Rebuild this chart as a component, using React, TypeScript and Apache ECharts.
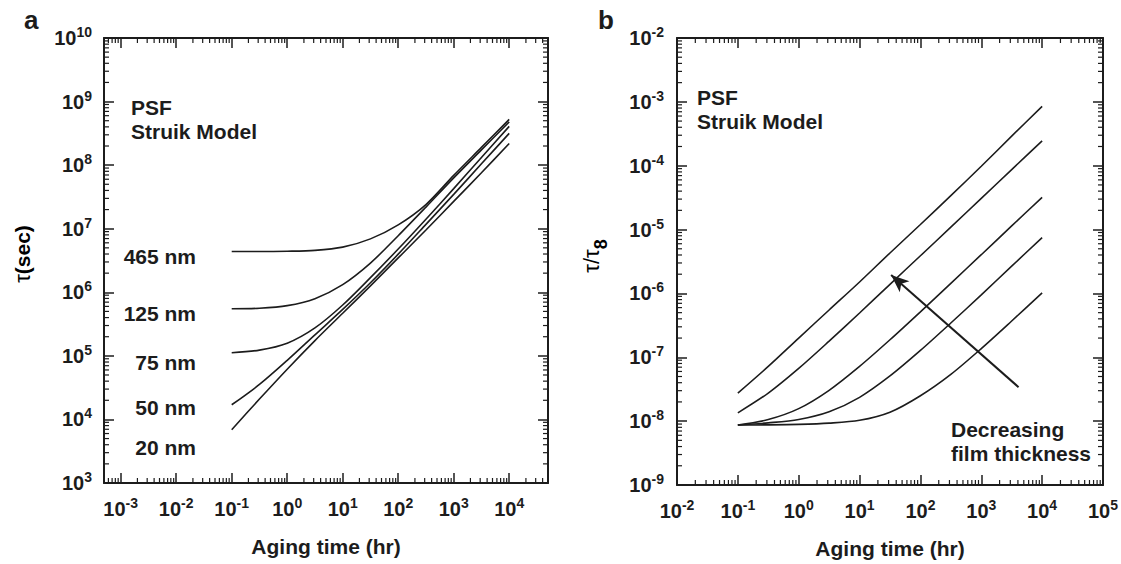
import React, { useEffect, useRef } from 'react';
import * as echarts from 'echarts';

const FONT = '"Liberation Sans", Arial, Helvetica, sans-serif';
const INK = '#1c1c1c';

// Aging time (hr) sample points shared by every curve
const agingTimeHr = [0.1, 0.316, 1, 3.16, 10, 31.6, 100, 316, 1000, 3160, 10000];

// Panel a: tau (sec) per film thickness
const tau465nm = [4.37e6, 4.37e6, 4.42e6, 4.57e6, 5.13e6, 6.92e6, 1.15e7, 2.4e7, 6.9e7, 1.9e8, 5.25e8];
const tau125nm = [5.5e5, 5.62e5, 6.17e5, 7.94e5, 1.32e6, 2.88e6, 7.76e6, 2.19e7, 6.31e7, 1.74e8, 4.79e8];
const tau75nm = [1.12e5, 1.23e5, 1.58e5, 2.75e5, 6.31e5, 1.7e6, 4.79e6, 1.41e7, 4.27e7, 1.32e8, 4.07e8];
const tau50nm = [1.7e4, 3.55e4, 8.5e4, 2.14e5, 5.37e5, 1.41e6, 3.98e6, 1.17e7, 3.47e7, 1.05e8, 3.16e8];
const tau20nm = [6.9e3, 2.09e4, 6.17e4, 1.74e5, 4.68e5, 1.26e6, 3.47e6, 9.55e6, 2.69e7, 7.59e7, 2.19e8];
const thicknessLabels = ['465 nm', '125 nm', '75 nm', '50 nm', '20 nm'];

// Panel b: tau / tau_inf, thickest curve first
const ratioCurve1 = [2.75e-8, 7.2e-8, 2.0e-7, 5.5e-7, 1.51e-6, 4.3e-6, 1.2e-5, 3.4e-5, 9.8e-5, 2.9e-4, 8.5e-4];
const ratioCurve2 = [1.35e-8, 2.75e-8, 6.7e-8, 1.79e-7, 4.94e-7, 1.39e-6, 3.89e-6, 1.09e-5, 3.08e-5, 8.7e-5, 2.45e-4];
const ratioCurve3 = [8.7e-9, 1.06e-8, 1.57e-8, 3.04e-8, 7.2e-8, 1.88e-7, 5.15e-7, 1.44e-6, 4.04e-6, 1.14e-5, 3.2e-5];
const ratioCurve4 = [8.7e-9, 9.4e-9, 1.06e-8, 1.4e-8, 2.36e-8, 5.1e-8, 1.28e-7, 3.44e-7, 9.5e-7, 2.67e-6, 7.5e-6];
const ratioCurve5 = [8.7e-9, 8.75e-9, 8.9e-9, 9.3e-9, 1.03e-8, 1.38e-8, 2.5e-8, 5.4e-8, 1.37e-7, 3.7e-7, 1.02e-6];

// Arrow "Decreasing film thickness" (tail -> tip), data coordinates
const arrowTail = [4100, 3.4e-8];
const arrowTip = [33, 1.95e-6];

// Axis ranges
const aXRange = [5e-4, 5e4];
const aYRange = [1e3, 1e10];
const bXRange = [1e-2, 1e5];
const bYRange = [1e-9, 1e-2];

function minorTicks(lo: number, hi: number): number[] {
  const out: number[] = [];
  const e0 = Math.floor(Math.log10(lo));
  const e1 = Math.ceil(Math.log10(hi));
  for (let e = e0; e <= e1; e++) {
    for (let m = 2; m <= 9; m++) {
      const v = m * Math.pow(10, e);
      if (v > lo * 1.0001 && v < hi * 0.9999) out.push(v);
    }
  }
  return out;
}

const expLabel = (v: number) => {
  const l = Math.log10(v);
  const e = Math.round(l);
  if (Math.abs(l - e) > 1e-6) return '';
  return `{b|10}{s|${e}}`;
};

const labelRich = {
  b: { fontFamily: FONT, fontWeight: 'bold', fontSize: 20, color: INK, verticalAlign: 'bottom', lineHeight: 20 },
  s: { fontFamily: FONT, fontWeight: 'bold', fontSize: 14, color: INK, verticalAlign: 'bottom', lineHeight: 14, padding: [0, 0, 9, 0] },
};

function logAxis(gridIndex: number, range: number[], position: string, showLabels: boolean, margin: number, extra: any = {}) {
  return {
    type: 'log',
    logBase: 10,
    gridIndex,
    min: range[0],
    max: range[1],
    position,
    axisLine: { show: true, onZero: false, lineStyle: { color: INK, width: 2 } },
    axisTick: { show: true, inside: true, length: 10, lineStyle: { color: INK, width: 1.5 } },
    axisLabel: showLabels
      ? { show: true, margin, formatter: expLabel, rich: labelRich, hideOverlap: false }
      : { show: false },
    splitLine: { show: false },
    ...extra,
  };
}

function tickSeries(axisIndex: number, xr: number[], yr: number[]) {
  const xMinor = minorTicks(xr[0], xr[1]);
  const yMinor = minorTicks(yr[0], yr[1]);
  return {
    type: 'custom',
    xAxisIndex: axisIndex,
    yAxisIndex: axisIndex,
    silent: true,
    clip: false,
    z: 5,
    data: [[Math.sqrt(xr[0] * xr[1]), Math.sqrt(yr[0] * yr[1])]],
    renderItem: (_params: any, api: any) => {
      const len = 5;
      const st = { stroke: INK, lineWidth: 1.2 };
      const children: any[] = [];
      for (const v of xMinor) {
        const b = api.coord([v, yr[0]]);
        const t = api.coord([v, yr[1]]);
        children.push({ type: 'line', shape: { x1: b[0], y1: b[1], x2: b[0], y2: b[1] - len }, style: st });
        children.push({ type: 'line', shape: { x1: t[0], y1: t[1], x2: t[0], y2: t[1] + len }, style: st });
      }
      for (const v of yMinor) {
        const l = api.coord([xr[0], v]);
        const r = api.coord([xr[1], v]);
        children.push({ type: 'line', shape: { x1: l[0], y1: l[1], x2: l[0] + len, y2: l[1] }, style: st });
        children.push({ type: 'line', shape: { x1: r[0], y1: r[1], x2: r[0] - len, y2: r[1] }, style: st });
      }
      return { type: 'group', children };
    },
  };
}

function curve(values: number[], axisIndex: number, extra: any = {}) {
  return {
    type: 'line',
    xAxisIndex: axisIndex,
    yAxisIndex: axisIndex,
    data: agingTimeHr.map((t, i) => [t, values[i]]),
    showSymbol: false,
    symbol: 'none',
    smooth: 0.3,
    lineStyle: { color: INK, width: 1.6 },
    silent: true,
    z: 3,
    ...extra,
  };
}

function txt(text: string, x: number, y: number, align = 'left', size = 21) {
  return {
    type: 'text',
    x,
    y,
    style: { text, fill: INK, fontFamily: FONT, fontWeight: 'bold', fontSize: size, align, verticalAlign: 'middle' },
  };
}

export default function App() {
  const ref = useRef<HTMLDivElement>(null);
  useEffect(() => {
    document.body.style.margin = '0';
    const chart = echarts.init(ref.current!, undefined, { renderer: 'svg' });
    const nameStyle = { fontFamily: FONT, fontWeight: 'bold', fontSize: 21, color: INK };
    const nmY = [256, 313, 362, 407, 447];
    const option: any = {
      animation: false,
      backgroundColor: '#ffffff',
      grid: [
        { left: 104, top: 38, width: 444, height: 445, containLabel: false },
        { left: 677, top: 38, width: 426, height: 448, containLabel: false },
      ],
      xAxis: [
        logAxis(0, aXRange, 'bottom', true, 16, {
          name: 'Aging time (hr)', nameLocation: 'middle', nameGap: 53, nameTextStyle: nameStyle,
        }),
        logAxis(0, aXRange, 'top', false, 0),
        logAxis(1, bXRange, 'bottom', true, 16, {
          name: 'Aging time (hr)', nameLocation: 'middle', nameGap: 53, nameTextStyle: nameStyle,
        }),
        logAxis(1, bXRange, 'top', false, 0),
      ],
      yAxis: [
        logAxis(0, aYRange, 'left', true, 12),
        logAxis(0, aYRange, 'right', false, 0),
        logAxis(1, bYRange, 'left', true, 13),
        logAxis(1, bYRange, 'right', false, 0),
      ],
      series: [
        curve(tau465nm, 0),
        curve(tau125nm, 0),
        curve(tau75nm, 0),
        curve(tau50nm, 0),
        curve(tau20nm, 0),
        curve(ratioCurve1, 2, {
          markLine: {
            silent: true,
            symbol: ['none', 'arrow'],
            symbolSize: [11, 18],
            lineStyle: { color: INK, width: 2, type: 'solid' },
            label: { show: false },
            data: [[{ coord: arrowTail }, { coord: arrowTip }]],
          },
        }),
        curve(ratioCurve2, 2),
        curve(ratioCurve3, 2),
        curve(ratioCurve4, 2),
        curve(ratioCurve5, 2),
        tickSeries(0, aXRange, aYRange),
        tickSeries(2, bXRange, bYRange),
      ],
      graphic: [
        txt('a', 24, 20, 'left', 26),
        txt('b', 598, 20, 'left', 26),
        txt('PSF', 131, 107),
        txt('Struik Model', 131, 131),
        txt('PSF', 697, 97),
        txt('Struik Model', 697, 121),
        ...thicknessLabels.map((s, i) => txt(s, 196, nmY[i], 'right')),
        txt('Decreasing', 951, 429),
        txt('film thickness', 951, 453),
        {
          type: 'text',
          x: 22,
          y: 254,
          rotation: Math.PI / 2,
          style: {
            text: '{t|τ}{b|(sec)}',
            align: 'center',
            verticalAlign: 'middle',
            rich: {
              t: { fontFamily: FONT, fontSize: 22, color: INK, verticalAlign: 'bottom' },
              b: { fontFamily: FONT, fontWeight: 'bold', fontSize: 21, color: INK, verticalAlign: 'bottom' },
            },
          },
        },
        {
          type: 'text',
          x: 595,
          y: 256,
          rotation: Math.PI / 2,
          style: {
            text: '{t|τ/τ}{s|8}',
            align: 'center',
            verticalAlign: 'middle',
            rich: {
              t: { fontFamily: FONT, fontSize: 22, color: INK, verticalAlign: 'bottom', padding: [0, 0, 8, 0] },
              s: { fontFamily: FONT, fontWeight: 'bold', fontSize: 18, color: INK, verticalAlign: 'bottom' },
            },
          },
        },
      ],
    };
    chart.setOption(option);
    return () => chart.dispose();
  }, []);
  return <div ref={ref} style={{ width: 1121, height: 564 }} />;
}
